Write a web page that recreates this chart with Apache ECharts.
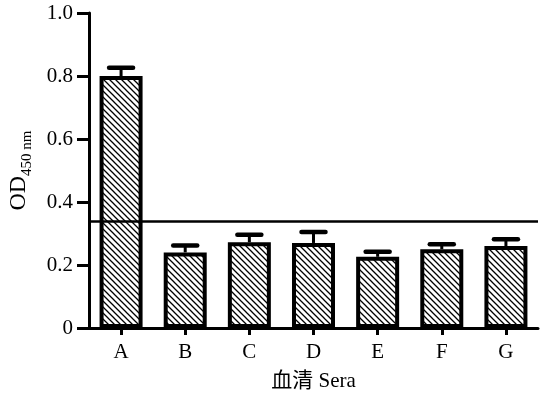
<!DOCTYPE html>
<html>
<head>
<meta charset="utf-8">
<script src="https://cdn.jsdelivr.net/npm/echarts@6/dist/echarts.min.js"></script>
<style>html,body{margin:0;padding:0;background:#fff}#c{width:548px;height:394px}</style>
</head>
<body>
<div id="c"></div>
<script>
var categories = ['A', 'B', 'C', 'D', 'E', 'F', 'G'];
var values = [0.80, 0.24, 0.272, 0.27, 0.226, 0.25, 0.26];
var errors = [0.026, 0.022, 0.024, 0.035, 0.016, 0.016, 0.022];
var threshold = 0.337;
var yTicks = [0, 0.2, 0.4, 0.6, 0.8, 1.0];

var FONT = '"Liberation Serif", "Times New Roman", "Noto Sans CJK SC", serif';

function hatch() {
  var s = 6;
  var c = document.createElement('canvas');
  c.width = s; c.height = s;
  var g = c.getContext('2d');
  g.fillStyle = '#fff'; g.fillRect(0, 0, s, s);
  g.strokeStyle = '#000'; g.lineWidth = 1.3;
  g.beginPath();
  g.moveTo(-1, -1); g.lineTo(s + 1, s + 1);
  g.moveTo(-1, s - 1); g.lineTo(1, s + 1);
  g.moveTo(s - 1, -1); g.lineTo(s + 1, 1);
  g.stroke();
  return c;
}

var chart = echarts.init(document.getElementById('c'), null, {renderer: 'canvas'});
var errData = values.map(function (v, i) { return [i, v, v + errors[i]]; });

chart.setOption({
  animation: false,
  grid: {left: 89, right: 10, top: 13, bottom: 66, containLabel: false, outerBoundsMode: 'none'},
  xAxis: {
    type: 'category',
    data: categories,
    name: '血清 Sera',
    nameLocation: 'middle',
    nameGap: 43,
    nameTextStyle: {fontFamily: FONT, fontSize: 21, color: '#000'},
    axisLine: {lineStyle: {color: '#000', width: 3}},
    axisTick: {show: true, alignWithLabel: true, length: 7, lineStyle: {color: '#000', width: 3}},
    axisLabel: {fontFamily: FONT, fontSize: 21, color: '#000', margin: 14}
  },
  yAxis: {
    type: 'value',
    min: 0, max: 1.0, interval: 0.2,
    name: '{a|OD}{b|450 nm}',
    nameLocation: 'middle',
    nameGap: 58,
    nameTextStyle: {
      rich: {
        a: {fontFamily: FONT, fontSize: 24, color: '#000', lineHeight: 30, verticalAlign: 'bottom'},
        b: {fontFamily: FONT, fontSize: 15, color: '#000', lineHeight: 30, verticalAlign: 'bottom', padding: [0, 0, -4, 0]}
      }
    },
    splitLine: {show: false},
    axisLine: {show: true, lineStyle: {color: '#000', width: 3}},
    axisTick: {show: true, length: 12, lineStyle: {color: '#000', width: 3}},
    axisLabel: {
      fontFamily: FONT, fontSize: 21, color: '#000', margin: 16,
      formatter: function (v) { return v === 0 ? '0' : v.toFixed(1); }
    }
  },
  series: [
    {
      type: 'bar',
      data: values,
      barWidth: 43,
      itemStyle: {
        color: {image: hatch(), repeat: 'repeat'},
        borderColor: '#000',
        borderWidth: 4
      },
      z: 2
    },
    {
      type: 'custom',
      data: errData,
      z: 3,
      renderItem: function (params, api) {
        var x = api.coord([api.value(0), api.value(1)]);
        var top = api.coord([api.value(0), api.value(2)]);
        var hw = 12;
        return {
          type: 'group',
          children: [
            {type: 'line', shape: {x1: x[0], y1: x[1], x2: x[0], y2: top[1]}, style: {stroke: '#000', lineWidth: 3}},
            {type: 'line', shape: {x1: x[0] - hw, y1: top[1], x2: x[0] + hw, y2: top[1]}, style: {stroke: '#000', lineWidth: 4.5, lineCap: 'round'}}
          ]
        };
      }
    },
    {
      type: 'line',
      data: [],
      markLine: {
        silent: true,
        symbol: 'none',
        label: {show: false},
        lineStyle: {color: '#000', width: 2.5, type: 'solid'},
        data: [{yAxis: threshold}]
      },
      z: 4
    }
  ]
});
</script>
</body>
</html>
